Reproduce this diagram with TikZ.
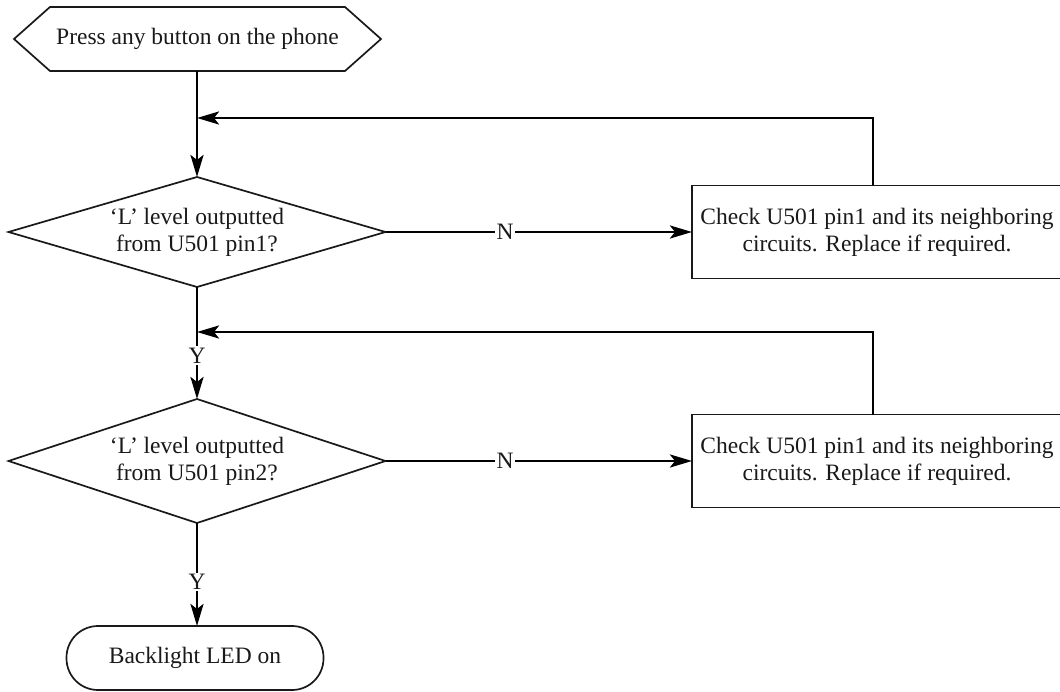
\documentclass[tikz,border=0pt]{standalone}
\usepackage{fontspec}
\setmainfont{Liberation Serif}
\usetikzlibrary{shapes.geometric,arrows.meta,calc}
\begin{document}
\begin{tikzpicture}[x=1pt,y=-1pt,
  txt/.style={font=\fontsize{23.5}{27}\selectfont, align=center, text=black!90},
  shapeline/.style={draw=black!90, line width=1.7pt},
  dia/.style={shapeline, diamond, inner sep=0pt, outer sep=0pt},
  procbox/.style={shapeline, rectangle, inner sep=0pt, outer sep=0pt},
  term/.style={shapeline, rectangle, rounded corners=31.5pt, inner sep=0pt, outer sep=0pt},
  conn/.style={draw=black, line width=2.8pt, -{Stealth[length=22pt,width=13pt,inset=5pt]}},
  lbl/.style={txt, fill=white, inner sep=1.5pt}
]
\useasboundingbox (0,0) rectangle (1060,692);

% start (hexagon)
\node[txt, minimum width=367pt, minimum height=64pt, inner sep=0pt, outer sep=0pt] (start) at (197.5,39) {Press any button on the phone};
\draw[shapeline] ($(start.north west)+(36pt,0)$) -- ($(start.north east)+(-36pt,0)$) -- (start.east)
  -- ($(start.south east)+(-36pt,0)$) -- ($(start.south west)+(36pt,0)$) -- (start.west) -- cycle;

% decision 1
\node[dia, minimum width=377pt, minimum height=110pt] (d1) at (197,232) {};
\node[txt] (d1t) at (d1) {`L' level outputted\\from U501 pin1?};

% process 1
\node[procbox, minimum width=370pt, minimum height=93pt] (b1) at (877,232) {};
\node[txt] (b1t) at (877,232) {Check U501 pin1 and its neighboring\\circuits. Replace if required.};

% decision 2
\node[dia, minimum width=377pt, minimum height=124pt] (d2) at (197,461) {};
\node[txt] (d2t) at (d2) {`L' level outputted\\from U501 pin2?};

% process 2
\node[procbox, minimum width=370pt, minimum height=93pt] (b2) at (877,461) {};
\node[txt] (b2t) at (877,461) {Check U501 pin1 and its neighboring\\circuits. Replace if required.};

% terminal
\node[term, minimum width=257pt, minimum height=64pt] (end) at (195,658) {};
\node[txt] (endt) at (end) {Backlight LED on};

% junctions
\coordinate (j1) at (197,118);
\coordinate (f1) at (873,118);
\coordinate (j2) at (197,332);
\coordinate (f2) at (873,332);

% connectors
\draw[conn] (start.south -| d1) -- (d1.north);
\draw[conn] (b1.north -| f1) -- (f1) -- (j1);
\draw[conn] (d1.east) -- node[lbl, pos=0.39] (n1) {N} (b1.west);
\draw[conn] (d1.south) -- node[lbl, pos=0.61] (y1) {Y} (d2.north);
\draw[conn] (b2.north -| f2) -- (f2) -- (j2);
\draw[conn] (d2.east) -- node[lbl, pos=0.39] (n2) {N} (b2.west);
\draw[conn] (d2.south) -- node[lbl, pos=0.57] (y2) {Y} (end.north -| d2);
\end{tikzpicture}
\end{document}
